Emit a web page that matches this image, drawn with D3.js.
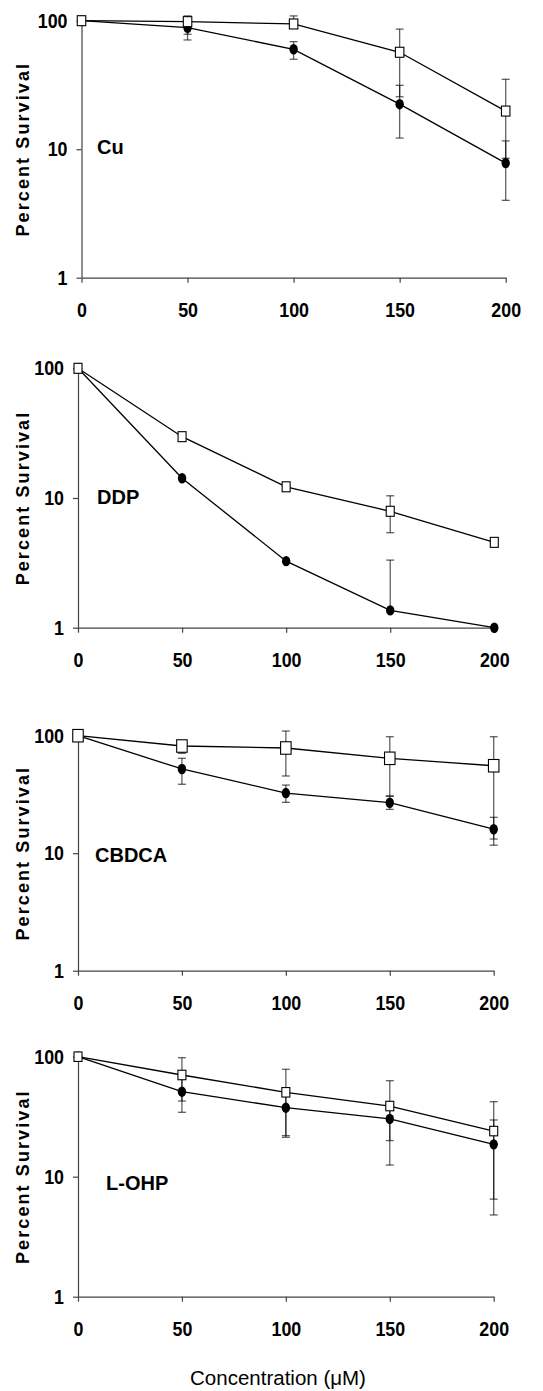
<!DOCTYPE html>
<html>
<head>
<meta charset="utf-8">
<script src="https://cdn.jsdelivr.net/npm/d3@7"></script>
<style>
body { margin: 0; background: #fff; }
svg { display: block; }
.tick text { font-family: "Liberation Sans", Arial, sans-serif; font-weight: bold; font-size: 20.5px; fill: #000; }
</style>
</head>
<body>
<div id="chart"></div>
<script>
// concentrations (uM)
var conc = [0, 50, 100, 150, 200];
var yTicks = [1, 10, 100];

// Cu
var cuOpen = [100, 98.3, 94.3, 56.8, 19.8];
var cuOpenHi = [null, 109, 109, 86, 35];
var cuOpenLo = [null, 78.4, null, 25.6, 8.5];
var cuFilled = [100, 88.2, 59.9, 22.4, 7.8];
var cuFilledHi = [null, null, 68.7, 31.4, 11.6];
var cuFilledLo = [null, 70.8, 50.1, 12.2, 4.0];

// DDP
var ddpOpen = [100, 29.7, 12.2, 7.9, 4.55];
var ddpOpenHi = [null, null, null, 10.4, null];
var ddpOpenLo = [null, null, null, 5.4, null];
var ddpFilled = [100, 14.2, 3.26, 1.36, 1.0];
var ddpFilledHi = [null, null, null, 3.32, null];
var ddpFilledLo = [null, null, null, null, null];

// CBDCA
var cbdcaOpen = [100, 81.7, 78.6, 64.2, 55.5];
var cbdcaOpenHi = [null, null, 109.6, 98, 98];
var cbdcaOpenLo = [null, 70.8, 45.4, 30.7, 11.7];
var cbdcaFilled = [100, 52.1, 32.5, 26.9, 16.0];
var cbdcaFilledHi = [null, 64.2, 38, 30.5, 20.2];
var cbdcaFilledLo = [null, 38.6, 27.1, 23.6, 13.2];

// L-OHP
var lohpOpen = [100, 70.4, 50.5, 38.8, 24];
var lohpOpenHi = [null, 98.1, 78.5, 63.1, 42.2];
var lohpOpenLo = [null, 42.7, 22, 12.5, 6.5];
var lohpFilled = [100, 51.1, 37.6, 30.3, 18.6];
var lohpFilledHi = [null, 68, 48, 40, 29.7];
var lohpFilledLo = [null, 34.4, 21.3, 20.0, 4.8];

var panels = [
    { name: "Cu", open: [cuOpen, cuOpenHi, cuOpenLo], filled: [cuFilled, cuFilledHi, cuFilledLo],
      x0: 81.5, x1: 505.7, yTop: 20.7, yBot: 277.7, labelX: 97, labelY: 154, sq: [8.5, 10] },
    { name: "DDP", open: [ddpOpen, ddpOpenHi, ddpOpenLo], filled: [ddpFilled, ddpFilledHi, ddpFilledLo],
      x0: 78, x1: 494.3, yTop: 368.3, yBot: 627.7, labelX: 97, labelY: 504, sq: [8, 10] },
    { name: "CBDCA", open: [cbdcaOpen, cbdcaOpenHi, cbdcaOpenLo], filled: [cbdcaFilled, cbdcaFilledHi, cbdcaFilledLo],
      x0: 78, x1: 493.7, yTop: 735.7, yBot: 970.7, labelX: 95, labelY: 862, sq: [10.5, 12.5] },
    { name: "L-OHP", open: [lohpOpen, lohpOpenHi, lohpOpenLo], filled: [lohpFilled, lohpFilledHi, lohpFilledLo],
      x0: 78, x1: 493.7, yTop: 1056.7, yBot: 1296.7, labelX: 106, labelY: 1190, sq: [8, 9.5] }
];

var svg = d3.select("#chart").append("svg")
    .attr("width", 543)
    .attr("height", 1391);

panels.forEach(function(p) {
    var x = d3.scaleLinear().domain([0, 200]).range([p.x0, p.x1]);
    var y = d3.scaleLog().domain([1, 100]).range([p.yBot, p.yTop]);

    var g = svg.append("g");

    // axes
    var yAxis = d3.axisLeft(y).tickValues(yTicks).tickFormat(d3.format("d"))
        .tickSize(5).tickSizeOuter(0).tickPadding(9);
    g.append("g").attr("transform", "translate(" + p.x0 + ",0)").call(yAxis);

    var xAxis = d3.axisBottom(x).tickValues(conc).tickFormat(d3.format("d"))
        .tickSize(5).tickSizeOuter(0).tickPadding(20);
    g.append("g").attr("transform", "translate(0," + p.yBot + ")").call(xAxis);

    g.selectAll(".domain, .tick line").attr("stroke", "#444").attr("stroke-width", 1.2);

    // squeeze the bold digits so they look like the condensed face in the original
    g.selectAll(".tick text").each(function() {
        var w = this.getComputedTextLength();
        d3.select(this).attr("textLength", w * 0.87).attr("lengthAdjust", "spacingAndGlyphs");
    });

    // y title
    g.append("text")
        .attr("transform", "translate(29," + ((p.yTop + p.yBot) / 2) + ") rotate(-90)")
        .attr("text-anchor", "middle")
        .style("font-family", "Liberation Sans, Arial, sans-serif")
        .style("font-weight", "bold")
        .style("font-size", "18px")
        .style("letter-spacing", "2.1px")
        .text("Percent Survival");

    // panel label
    g.append("text")
        .attr("x", p.labelX)
        .attr("y", p.labelY)
        .style("font-family", "Liberation Sans, Arial, sans-serif")
        .style("font-weight", "bold")
        .style("font-size", "20px")
        .text(p.name);

    var series = [
        { vals: p.filled, type: "filled" },
        { vals: p.open, type: "open" }
    ];

    // error bars
    series.forEach(function(s) {
        var bars = [];
        conc.forEach(function(c, i) {
            if (s.vals[1][i] != null) bars.push({ c: c, from: s.vals[0][i], to: s.vals[1][i] });
            if (s.vals[2][i] != null) bars.push({ c: c, from: s.vals[0][i], to: s.vals[2][i] });
        });
        var eb = g.append("g").attr("stroke", "#000").attr("stroke-opacity", 0.62).attr("stroke-width", 1.3);
        eb.selectAll(".v").data(bars).enter().append("line")
            .attr("x1", function(d) { return x(d.c); })
            .attr("x2", function(d) { return x(d.c); })
            .attr("y1", function(d) { return y(d.from); })
            .attr("y2", function(d) { return y(d.to); });
        eb.selectAll(".cap").data(bars).enter().append("line")
            .attr("x1", function(d) { return x(d.c) - 4; })
            .attr("x2", function(d) { return x(d.c) + 4; })
            .attr("y1", function(d) { return y(d.to); })
            .attr("y2", function(d) { return y(d.to); });
    });

    // lines
    var line = d3.line()
        .x(function(d, i) { return x(conc[i]); })
        .y(function(d) { return y(d); });
    series.forEach(function(s) {
        g.append("path")
            .datum(s.vals[0])
            .attr("fill", "none")
            .attr("stroke", "#000")
            .attr("stroke-width", 1.3)
            .attr("d", line);
    });

    // markers
    g.selectAll(".dot").data(p.filled[0]).enter().append("ellipse")
        .attr("cx", function(d, i) { return x(conc[i]); })
        .attr("cy", function(d) { return y(d); })
        .attr("rx", 4.2)
        .attr("ry", 5.2)
        .attr("fill", "#000");
    g.selectAll(".sq").data(p.open[0]).enter().append("rect")
        .attr("x", function(d, i) { return x(conc[i]) - p.sq[0] / 2; })
        .attr("y", function(d) { return y(d) - p.sq[1] / 2; })
        .attr("width", p.sq[0])
        .attr("height", p.sq[1])
        .attr("fill", "#fff")
        .attr("stroke", "#000")
        .attr("stroke-width", 1.1);
});

svg.append("text")
    .attr("x", 278)
    .attr("y", 1385)
    .attr("text-anchor", "middle")
    .style("font-family", "Liberation Sans, Arial, sans-serif")
    .style("font-size", "20.5px")
    .text("Concentration (\u03bcM)");
</script>
</body>
</html>
